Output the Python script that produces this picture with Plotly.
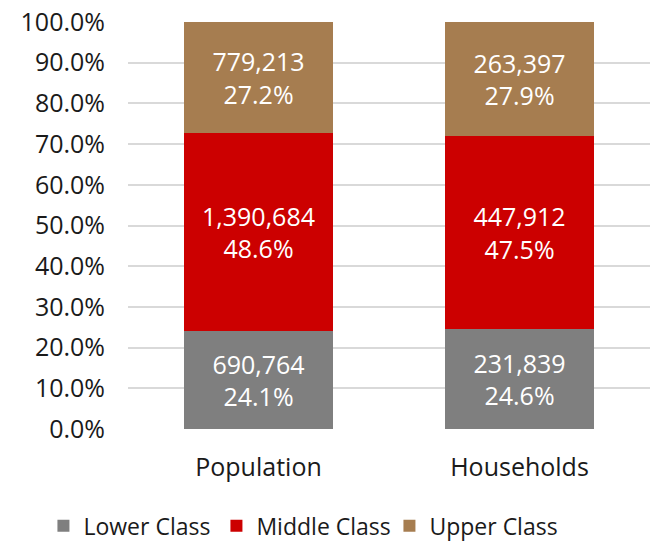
import plotly.graph_objects as go

# Data
categories = ["Population", "Households"]
series_names = ["Lower Class", "Middle Class", "Upper Class"]
lower_counts = [690764, 231839]
middle_counts = [1390684, 447912]
upper_counts = [779213, 263397]
lower_pct = [24.1, 24.6]
middle_pct = [48.6, 47.5]
upper_pct = [27.2, 27.9]
y_ticks = [0, 10, 20, 30, 40, 50, 60, 70, 80, 90, 100]

# Colors
GRAY, RED, TAN, GRID = "#7f7f7f", "#cc0000", "#a67d50", "#d9d9d9"
FONT = "Open Sans"

fig = go.Figure()
for name, counts, pcts, color in zip(series_names,
                                      [lower_counts, middle_counts, upper_counts],
                                      [lower_pct, middle_pct, upper_pct],
                                      [GRAY, RED, TAN]):
    labels = [f"{c:,}<br>{p:.1f}%" for c, p in zip(counts, pcts)]
    fig.add_trace(go.Bar(
        x=categories, y=counts, name=name, marker_color=color, marker_line_width=0,
        text=labels, textposition="inside", insidetextanchor="middle",
        textfont=dict(color="white", size=25, family=FONT), textangle=0,
        hoverinfo="skip"
    ))

fig.update_layout(
    barmode="stack", barnorm="percent", bargap=0.43,
    width=654, height=542,
    margin=dict(l=128, r=4, t=22, b=113, autoexpand=False),
    paper_bgcolor="white", plot_bgcolor="white",
    font=dict(family=FONT, size=25, color="#1a1a1a"),
    uniformtext=dict(minsize=25, mode="show"),
    legend=dict(orientation="h", x=-0.162, xanchor="left",
                y=-0.185, yanchor="top", font=dict(size=23), traceorder="normal",
                entrywidth=128, entrywidthmode="pixels"),
    xaxis=dict(showgrid=False, showline=False, ticks="", ticklabelstandoff=21,
               tickangle=0, automargin=False, tickfont=dict(size=25)),
    yaxis=dict(range=[0, 100], tickvals=y_ticks, ticktext=[f"{v:.1f}%" for v in y_ticks],
               showgrid=True, gridcolor=GRID, gridwidth=1.5, zeroline=False, automargin=False,
               showline=False, ticks="", ticklabelstandoff=22, tickfont=dict(size=25)),
)

# drop the default page margin so the figure sits at the window's corner
fig.write_html("out.html", config={"displayModeBar": False},
               post_script="document.body.style.margin='0';")
